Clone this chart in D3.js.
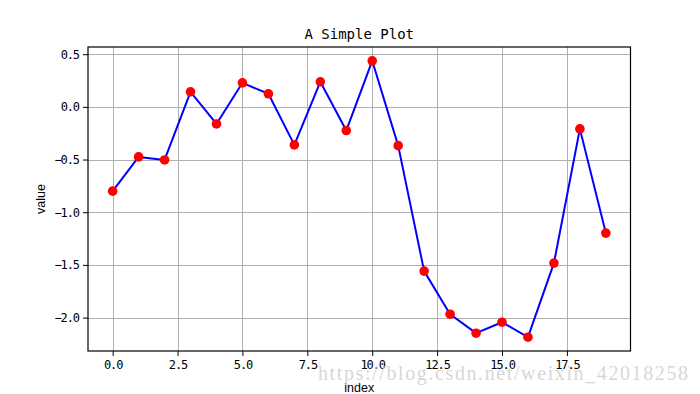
<!DOCTYPE html>
<html>
<head>
<meta charset="utf-8">
<script src="https://cdn.jsdelivr.net/npm/d3@7"></script>
<style>
  body { margin: 0; background: #fff; }
  svg { display: block; }
</style>
</head>
<body>
<svg id="chart" width="700" height="394"></svg>
<script>
// values, one per index
const indices = d3.range(20);
const values = [-0.80, -0.475, -0.504, 0.143, -0.162, 0.228, 0.124, -0.361, 0.238, -0.225,
                0.437, -0.368, -1.559, -1.968, -2.148, -2.044, -2.186, -1.483, -0.209, -1.198];
const xTicks = [0, 2.5, 5, 7.5, 10, 12.5, 15, 17.5];
const yTicks = [0.5, 0, -0.5, -1.0, -1.5, -2.0];

const title = "A Simple Plot";
const xLabel = "index";
const yLabel = "value";
const watermark = "https://blog.csdn.net/weixin_42018258";

const svg = d3.select("#chart");
const plotLeft = 88, plotRight = 630.5, plotTop = 47, plotBottom = 351;

// matplotlib style 5% margins
const xPad = (d3.max(indices) - d3.min(indices)) * 0.05;
const yPad = (d3.max(values) - d3.min(values)) * 0.05;
const x = d3.scaleLinear([d3.min(indices) - xPad, d3.max(indices) + xPad], [plotLeft, plotRight]);
const y = d3.scaleLinear([d3.min(values) - yPad, d3.max(values) + yPad], [plotBottom, plotTop]);

const fmt = d => d3.format(".1f")(d).replace("-", "\u2212");

// grid
svg.append("g")
  .selectAll("line")
  .data(xTicks)
  .enter().append("line")
    .attr("x1", d => Math.round(x(d)) + 0.5).attr("x2", d => Math.round(x(d)) + 0.5)
    .attr("y1", plotTop).attr("y2", plotBottom)
    .attr("stroke", "#b0b0b0").attr("stroke-width", 1);
svg.append("g")
  .selectAll("line")
  .data(yTicks)
  .enter().append("line")
    .attr("y1", d => Math.round(y(d)) + 0.5).attr("y2", d => Math.round(y(d)) + 0.5)
    .attr("x1", plotLeft).attr("x2", plotRight)
    .attr("stroke", "#b0b0b0").attr("stroke-width", 1);

// axes with ticks
const xAxis = svg.append("g")
  .attr("transform", `translate(0,${plotBottom})`)
  .call(d3.axisBottom(x).tickValues(xTicks).tickFormat(fmt).tickSize(5).tickPadding(4));
const yAxis = svg.append("g")
  .attr("transform", `translate(${plotLeft},0)`)
  .call(d3.axisLeft(y).tickValues(yTicks).tickFormat(fmt).tickSize(5).tickPadding(4));
[xAxis, yAxis].forEach(a => {
  a.select(".domain").remove();
  a.selectAll("text")
    .attr("font-family", "'DejaVu Sans Mono', monospace")
    .attr("font-size", 12)
    .attr("letter-spacing", "-1.1px")
    .attr("fill", "#000");
});

// line and markers
const line = d3.line().x((d, i) => x(indices[i])).y(d => y(d));
svg.append("path")
  .datum(values)
  .attr("d", line)
  .attr("fill", "none")
  .attr("stroke", "#0000ff")
  .attr("stroke-width", 2)
  .attr("stroke-linejoin", "round");
svg.append("g")
  .selectAll("circle")
  .data(values)
  .enter().append("circle")
    .attr("cx", (d, i) => x(indices[i]))
    .attr("cy", d => y(d))
    .attr("r", 4.8)
    .attr("fill", "#ff0000");

// frame
svg.append("rect")
  .attr("x", plotLeft).attr("y", plotTop)
  .attr("width", plotRight - plotLeft).attr("height", plotBottom - plotTop)
  .attr("fill", "none").attr("stroke", "#000").attr("stroke-width", 1.2);

// texts
svg.append("text")
  .attr("x", (plotLeft + plotRight) / 2).attr("y", 39)
  .attr("text-anchor", "middle")
  .attr("font-family", "'DejaVu Sans Mono', monospace")
  .attr("font-size", 14)
  .text(title);
svg.append("text")
  .attr("x", (plotLeft + plotRight) / 2).attr("y", 392)
  .attr("text-anchor", "middle")
  .attr("font-family", "'Liberation Sans', Arial, sans-serif")
  .attr("font-size", 12.5)
  .text(xLabel);
svg.append("text")
  .attr("transform", `translate(45,${(plotTop + plotBottom) / 2}) rotate(-90)`)
  .attr("text-anchor", "middle")
  .attr("font-family", "'Liberation Sans', Arial, sans-serif")
  .attr("font-size", 12.5)
  .text(yLabel);

// watermark from the source image
svg.append("text")
  .attr("x", 318).attr("y", 380)
  .attr("textLength", 370).attr("lengthAdjust", "spacing")
  .attr("font-family", "'Liberation Serif', serif")
  .attr("font-size", 20)
  .attr("fill", "#d2d2d2")
  .attr("fill-opacity", 0.9)
  .text(watermark);
</script>
</body>
</html>
